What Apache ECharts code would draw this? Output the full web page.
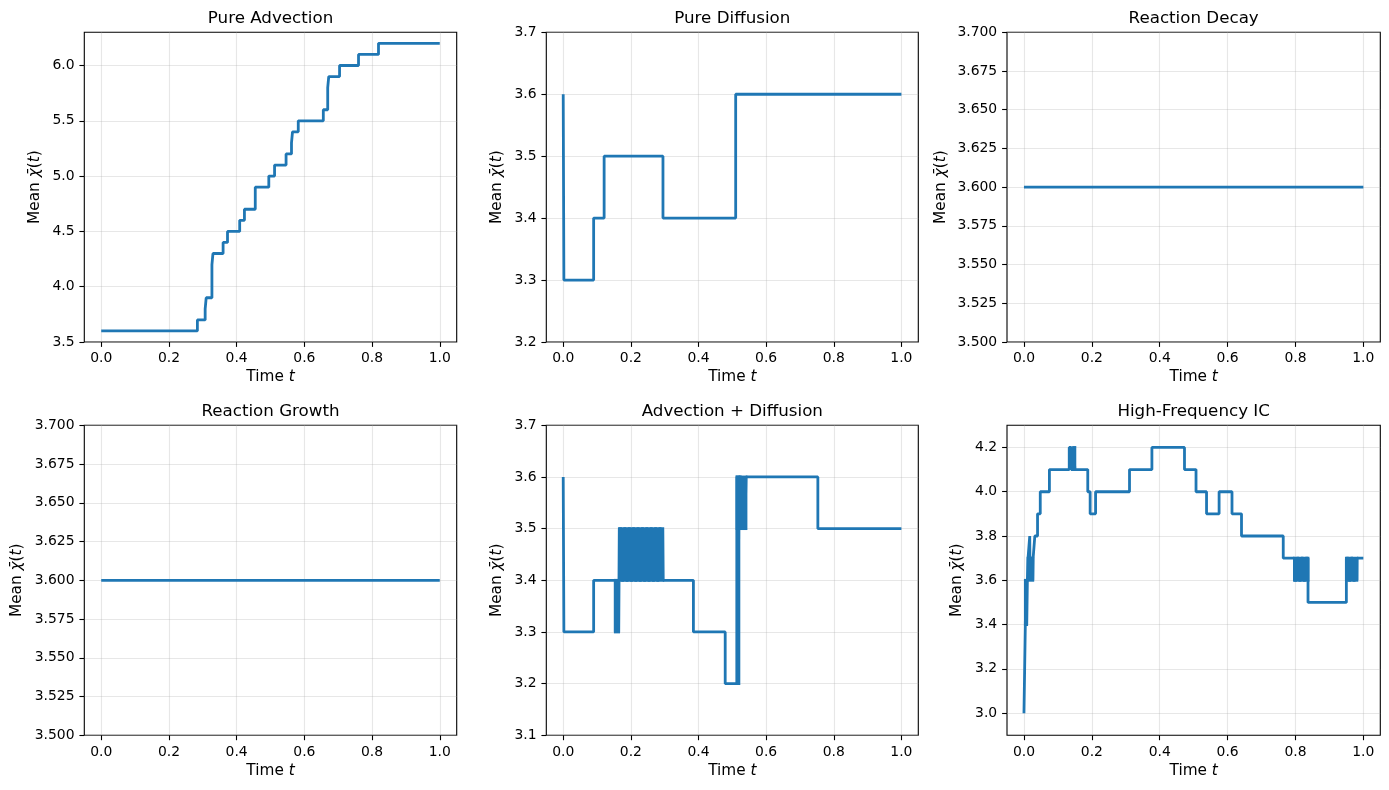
<!DOCTYPE html>
<html>
<head>
<meta charset="utf-8">
<title>Mean trajectories</title>
<script src="https://cdn.jsdelivr.net/npm/echarts@6/dist/echarts.min.js"></script>
<style>
  html, body { margin: 0; padding: 0; background: #fff; }
  #chart { width: 1389px; height: 790px; }
</style>
</head>
<body>
<div id="chart"></div>
<script>
// each point = [time where the value starts, mean value] (drawn as steps)
var pureAdvection = [
  [0, 3.6], [0.284, 3.7], [0.307, 3.8], [0.310, 3.9], [0.327, 4.2], [0.330, 4.3],
  [0.360, 4.4], [0.373, 4.5], [0.409, 4.6], [0.423, 4.7], [0.455, 4.9], [0.495, 5.0],
  [0.512, 5.1], [0.546, 5.2], [0.562, 5.3], [0.565, 5.4], [0.582, 5.5], [0.656, 5.6],
  [0.669, 5.8], [0.672, 5.9], [0.704, 6.0], [0.760, 6.1], [0.819, 6.2], [1.0, 6.2]
]
var pureDiffusion = [
  [0, 3.6], [0.002, 3.3], [0.090, 3.4], [0.121, 3.5], [0.295, 3.4], [0.510, 3.6], [1.0, 3.6]
]
var reactionDecay = [[0, 3.6], [1.0, 3.6]]
var reactionGrowth = [[0, 3.6], [1.0, 3.6]]
var advDiffusion = [
  [0, 3.6], [0.002, 3.3], [0.090, 3.4],
  [0.154, 3.3], [0.159, 3.4], [0.164, 3.3],
  [0.166, 3.5], [0.1725, 3.4], [0.179, 3.5], [0.1855, 3.4], [0.192, 3.5], [0.1985, 3.4],
  [0.205, 3.5], [0.2115, 3.4], [0.218, 3.5], [0.2245, 3.4], [0.231, 3.5], [0.2375, 3.4],
  [0.244, 3.5], [0.2505, 3.4], [0.257, 3.5], [0.2635, 3.4], [0.270, 3.5], [0.2765, 3.4],
  [0.283, 3.5], [0.2895, 3.4], [0.294, 3.5], [0.2955, 3.4],
  [0.385, 3.3], [0.479, 3.2],
  [0.514, 3.6], [0.517, 3.2], [0.5195, 3.6], [0.527, 3.5], [0.5335, 3.6], [0.537, 3.5],
  [0.5405, 3.6], [0.753, 3.5], [1.0, 3.5]
]
var highFreqIC = [
  [0, 3.0], [0.002, 3.2], [0.004, 3.4], [0.006, 3.6], [0.008, 3.4], [0.010, 3.6],
  [0.012, 3.7], [0.017, 3.8], [0.018, 3.6], [0.020, 3.7], [0.026, 3.6], [0.027, 3.7],
  [0.032, 3.8], [0.040, 3.9], [0.048, 4.0], [0.075, 4.1],
  [0.1334, 4.2], [0.1393, 4.1], [0.146, 4.2], [0.150, 4.1],
  [0.188, 4.0], [0.195, 3.9], [0.211, 4.0], [0.311, 4.1],
  [0.377, 4.2], [0.473, 4.1], [0.507, 4.0], [0.538, 3.9], [0.575, 4.0], [0.613, 3.9],
  [0.641, 3.8], [0.764, 3.7],
  [0.797, 3.6], [0.8035, 3.7], [0.810, 3.6], [0.8165, 3.7], [0.823, 3.6], [0.8295, 3.7],
  [0.837, 3.5],
  [0.950, 3.7], [0.9565, 3.6], [0.963, 3.7], [0.9695, 3.6], [0.976, 3.7], [0.981, 3.6],
  [0.9815, 3.7], [1.0, 3.7]
]

// stretches where the mean flickers so fast that the line fills a block:
// [t start, t end, low value, high value]
var advDiffusionFlicker = [
  [0.154, 0.164, 3.3, 3.4],
  [0.166, 0.2945, 3.4, 3.5],
  [0.514, 0.5195, 3.2, 3.6],
  [0.514, 0.5405, 3.5, 3.6]
]
var highFreqFlicker = [
  [0.004, 0.008, 3.4, 3.6],
  [0.012, 0.026, 3.6, 3.7],
  [0.146, 0.150, 4.1, 4.2],
  [0.797, 0.837, 3.6, 3.7],
  [0.950, 0.981, 3.6, 3.7]
]

var titles = ['Pure Advection', 'Pure Diffusion', 'Reaction Decay',
  'Reaction Growth', 'Advection + Diffusion', 'High-Frequency IC']
var seriesData = [pureAdvection, pureDiffusion, reactionDecay, reactionGrowth, advDiffusion, highFreqIC]
var flickerData = [[], [], [], [], advDiffusionFlicker, highFreqFlicker]

// tick values
var xTicks = [0, 0.2, 0.4, 0.6, 0.8, 1.0]
var yTicksAdv = [3.5, 4.0, 4.5, 5.0, 5.5, 6.0]
var yTicksDiff = [3.2, 3.3, 3.4, 3.5, 3.6, 3.7]
var yTicksReact = [3.5, 3.525, 3.55, 3.575, 3.6, 3.625, 3.65, 3.675, 3.7]
var yTicksAdvDiff = [3.1, 3.2, 3.3, 3.4, 3.5, 3.6, 3.7]
var yTicksHF = [3.0, 3.2, 3.4, 3.6, 3.8, 4.0, 4.2]

var yTicks = [yTicksAdv, yTicksDiff, yTicksReact, yTicksReact, yTicksAdvDiff, yTicksHF]
var yRange = [[3.5, 6.3], [3.2, 3.7], [3.5, 3.7], [3.5, 3.7], [3.1, 3.7], [2.9, 4.3]]
var yDigits = [1, 1, 3, 3, 1, 1]

// layout (px)
var cols = [{left: 84.3, width: 372.4}, {left: 546.3, width: 372}, {left: 1007, width: 373.3}]
var rows = [{top: 32.3, height: 309.7}, {top: 425.3, height: 310}]
var yNameGap = [42, 42, 58, 60, 42, 42]

var FONT = 'DejaVu Sans'
var LINE_W = 2.8
var BLUE = '#1f77b4'
var chart = echarts.init(document.getElementById('chart'), null, {renderer: 'canvas'})

var option = {
  animation: false,
  backgroundColor: '#fff',
  title: [],
  grid: [],
  xAxis: [],
  yAxis: [],
  series: []
}

// block of flicker, padded by half the line width like the line itself
function renderFlicker(params, api) {
  var a = api.coord([api.value(0), api.value(3)])
  var b = api.coord([api.value(1), api.value(2)])
  var pad = LINE_W / 2
  return {
    type: 'rect',
    shape: {x: a[0] - pad, y: a[1] - pad, width: b[0] - a[0] + 2 * pad, height: b[1] - a[1] + 2 * pad},
    style: {fill: BLUE}
  }
}

for (var i = 0; i < 6; i++) {
  var c = cols[i % 3]
  var r = rows[Math.floor(i / 3)]
  var digits = yDigits[i]

  option.title.push({
    text: titles[i],
    left: c.left + c.width / 2,
    top: r.top - 24,
    textAlign: 'center',
    padding: 0,
    textStyle: {fontFamily: FONT, fontSize: 16.7, fontWeight: 'normal', color: '#000', lineHeight: 20}
  })

  option.grid.push({
    left: c.left, top: r.top, width: c.width, height: r.height,
    show: true, borderColor: '#000', borderWidth: 1.1, backgroundColor: 'transparent'
  })

  option.xAxis.push({
    type: 'value',
    gridIndex: i,
    min: -0.05,
    max: 1.05,
    name: 'Time {i|t}',
    nameLocation: 'middle',
    nameGap: 28,
    nameTextStyle: {
      fontFamily: FONT, fontSize: 15.3, color: '#000',
      rich: {i: {fontFamily: FONT, fontSize: 15.3, fontStyle: 'italic', color: '#000'}}
    },
    axisLine: {show: false, onZero: false},
    axisTick: {show: true, inside: false, length: 4.9, customValues: xTicks,
      lineStyle: {color: '#000', width: 1.1}},
    axisLabel: {customValues: xTicks, margin: 9.8, fontFamily: FONT, fontSize: 13.9, color: '#000',
      formatter: function (v) { return v.toFixed(1) }},
    splitLine: {show: true, lineStyle: {color: 'rgba(176,176,176,0.3)', width: 1.1}}
  })

  option.yAxis.push({
    type: 'value',
    gridIndex: i,
    min: yRange[i][0],
    max: yRange[i][1],
    name: 'Mean {i|χ̄}({i|t})',
    nameLocation: 'middle',
    nameGap: yNameGap[i],
    nameTextStyle: {
      fontFamily: FONT, fontSize: 15.3, color: '#000',
      rich: {i: {fontFamily: FONT, fontSize: 15.3, fontStyle: 'italic', color: '#000'}}
    },
    axisLine: {show: false, onZero: false},
    axisTick: {show: true, inside: false, length: 4.9, customValues: yTicks[i],
      lineStyle: {color: '#000', width: 1.1}},
    axisLabel: {customValues: yTicks[i], margin: 9.8, fontFamily: FONT, fontSize: 13.9, color: '#000',
      formatter: (function (d) { return function (v) { return v.toFixed(d) } })(digits)},
    splitLine: {show: true, lineStyle: {color: 'rgba(176,176,176,0.3)', width: 1.1}}
  })

  option.series.push({
    type: 'line',
    xAxisIndex: i,
    yAxisIndex: i,
    data: seriesData[i],
    step: 'end',
    showSymbol: false,
    silent: true,
    lineStyle: {color: BLUE, width: LINE_W},
    itemStyle: {color: BLUE}
  })

  if (flickerData[i].length) {
    option.series.push({
      type: 'custom',
      xAxisIndex: i,
      yAxisIndex: i,
      data: flickerData[i],
      encode: {x: [0, 1], y: [2, 3]},
      renderItem: renderFlicker,
      silent: true,
      z: 3
    })
  }
}

chart.setOption(option)
</script>
</body>
</html>
